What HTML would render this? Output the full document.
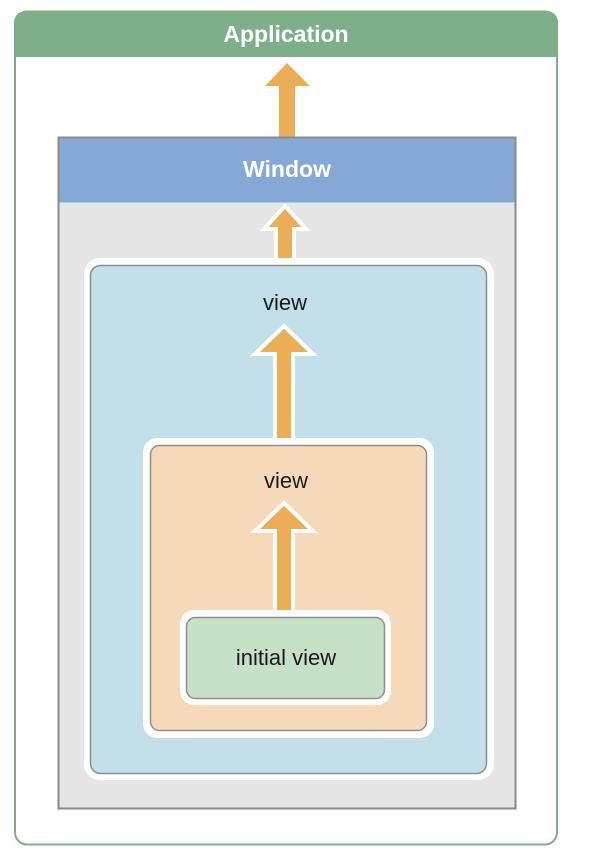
<!DOCTYPE html>
<html><head><style>
body{margin:0;background:#fff;}
svg{display:block}
text{font-family:"Liberation Sans",Arial,sans-serif;}
</style></head><body>
<svg width="594" height="868" viewBox="0 0 594 868" xmlns="http://www.w3.org/2000/svg">
<!-- Application -->
<rect x="15" y="11.5" width="542" height="833" rx="12" fill="#fff" stroke="#7db08a" stroke-width="2"/>
<path d="M14 57 V24 Q14 11 27 11 H545 Q558 11 558 24 V57 Z" fill="#7db08a"/>
<text x="286" y="42" text-anchor="middle" font-size="23" font-weight="bold" fill="#fff">Application</text>
<!-- arrow 1 -->
<polygon points="287,63 310,86 295,86 295,138 279,138 279,86 265,86" fill="#ebad55"/>
<!-- Window -->
<rect x="58.5" y="137.5" width="457" height="671" fill="#e5e6e5" stroke="#8a8a8a" stroke-width="2"/>
<rect x="59.5" y="138.5" width="455" height="64" fill="#86a8d6"/>
<text x="287" y="177" text-anchor="middle" font-size="23" font-weight="bold" fill="#fff">Window</text>
<!-- arrow 2 -->
<polygon points="285,206 306,229 294,229 294,260 276,260 276,229 264,229" fill="#ebad55" stroke="#fff" stroke-width="4" stroke-linejoin="miter"/>
<!-- blue view -->
<rect x="84" y="258" width="410" height="522" rx="16" fill="#fff"/>
<rect x="90.5" y="265.5" width="396" height="508" rx="10" fill="#c2dfea" stroke="#8e8e8e" stroke-width="1.5"/>
<text x="285" y="310" text-anchor="middle" font-size="22" fill="#1a1a1a">view</text>
<!-- arrow 3 -->
<polygon points="284,326 313,354 293,354 293,440 275,440 275,354 255,354" fill="#ebad55" stroke="#fff" stroke-width="4"/>
<!-- orange view -->
<rect x="143" y="438" width="291" height="300" rx="14" fill="#fff"/>
<rect x="150.5" y="445.5" width="276" height="285" rx="9" fill="#f6d9b9" stroke="#8e8e8e" stroke-width="1.5"/>
<text x="286" y="488" text-anchor="middle" font-size="22" fill="#1a1a1a">view</text>
<!-- arrow 4 -->
<polygon points="284,503 313,531 293,531 293,612 275,612 275,531 255,531" fill="#ebad55" stroke="#fff" stroke-width="4"/>
<!-- initial view -->
<rect x="180" y="610" width="211" height="95" rx="14" fill="#fff"/>
<rect x="186.5" y="617.5" width="198" height="81" rx="9" fill="#c7e0c8" stroke="#8e8e8e" stroke-width="1.5"/>
<text x="286" y="665" text-anchor="middle" font-size="22" fill="#1a1a1a">initial view</text>
</svg>
</body></html>
